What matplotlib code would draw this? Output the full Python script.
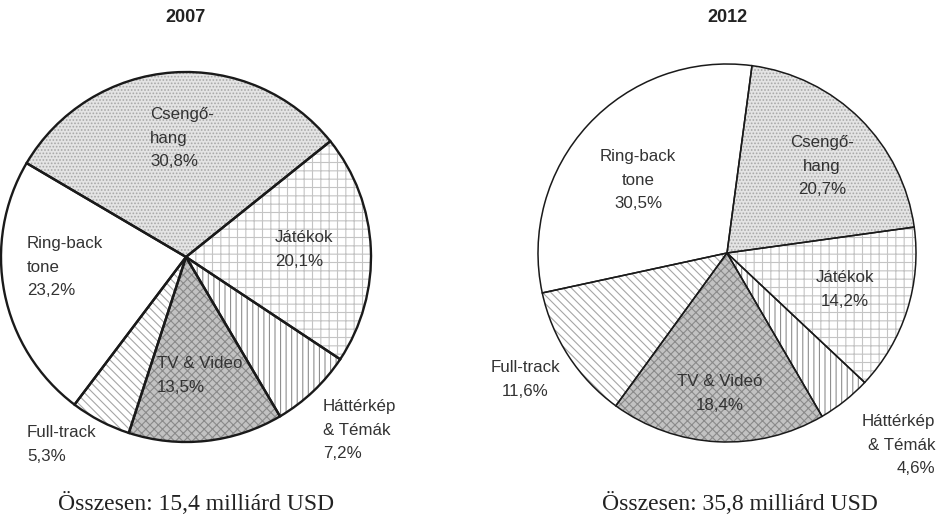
import numpy as np
import matplotlib.pyplot as plt

# data
cats = ['Csengőhang', 'Játékok', 'Háttérkép', 'TV & Videó', 'Full-track', 'Ring-back tone']
share_2007 = [30.8, 20.1, 7.2, 13.5, 5.3, 23.2]
share_2012 = [20.7, 14.2, 4.6, 18.4, 11.6, 30.5]

labels_2007 = ['Csengő-\nhang\n30,8%', 'Játékok\n20,1%', 'Háttérkép\n& Témák\n7,2%',
               'TV & Video\n13,5%', 'Full-track\n5,3%', 'Ring-back\ntone\n23,2%']
labels_2012 = ['Csengő-\nhang\n20,7%', 'Játékok\n14,2%', 'Háttérkép\n& Témák\n4,6%',
               'TV & Videó\n18,4%', 'Full-track\n11,6%', 'Ring-back\ntone\n30,5%']

totals = ['Összesen: 15,4 milliárd USD', 'Összesen: 35,8 milliárd USD']
years = ['2007', '2012']

# fill / hatch per category
faces = ['#e4e4e4', 'white', 'white', '#c2c2c2', 'white', 'white']
hatches = ['.....', '++', '|||', 'xxxx', '\\\\\\\\', '']
hcolors = ['#a8a8a8', '#c4c4c4', '#8e8e8e', '#8a8a8a', '#a6a6a6', 'white']

plt.rcParams['hatch.linewidth'] = 0.8

W, H = 939, 518
fig = plt.figure(figsize=(W / 100, H / 100), dpi=100)


def draw_pie(cx, cy, r, vals, start, lw, labels, lab_pos, aligns, title, total, tx):
    ax = fig.add_axes([(cx - r) / W, (H - cy - r) / H, 2 * r / W, 2 * r / H])
    wedges, _ = ax.pie(vals, startangle=start, counterclock=False, radius=1,
                       colors=faces, wedgeprops=dict(linewidth=0))
    for w, h, hc in zip(wedges, hatches, hcolors):
        w.set_hatch(h)
        w.set_edgecolor(hc)
    # outlines
    ax.pie(vals, startangle=start, counterclock=False, radius=1,
           colors=['none'] * len(vals),
           wedgeprops=dict(linewidth=lw, edgecolor='#1a1a1a', fill=False))
    ax.set_xlim(-1, 1)
    ax.set_ylim(-1, 1)
    ax.axis('off')
    for lab, (px, py), ha in zip(labels, lab_pos, aligns):
        ax.text((px - cx) / r, (cy - py) / r, lab, ha=ha, va='top',
                fontsize=12.2, color='#333333', family='Liberation Sans',
                linespacing=1.72)
    fig.text(cx / W, 1 - 18 / H, title, ha='center', va='center',
             fontsize=13, fontweight='bold', family='Liberation Sans', color='#222222')
    fig.text(tx / W, 1 - 504 / H, total, ha='center', va='center',
             fontsize=17, family='Liberation Serif', color='#222222')


# label anchor points (pixel positions of the text blocks' top)
pos_2007 = [(150, 107), (275, 230), (323, 399), (157, 356), (27, 425), (27, 236)]
al_2007 = ['left'] * 6
pos_2012 = [(822, 135), (845, 270), (935, 414), (720, 374), (525, 360), (638, 149)]
al_2012 = ['center', 'center', 'right', 'center', 'center', 'center']

draw_pie(186, 257, 185, share_2007, 149.5, 1.7, labels_2007, pos_2007, al_2007,
         years[0], totals[0], 196)
draw_pie(727, 253, 189, share_2012, 82.4, 1.1, labels_2012, pos_2012, al_2012,
         years[1], totals[1], 740)

fig.savefig('out.png', dpi=100)
